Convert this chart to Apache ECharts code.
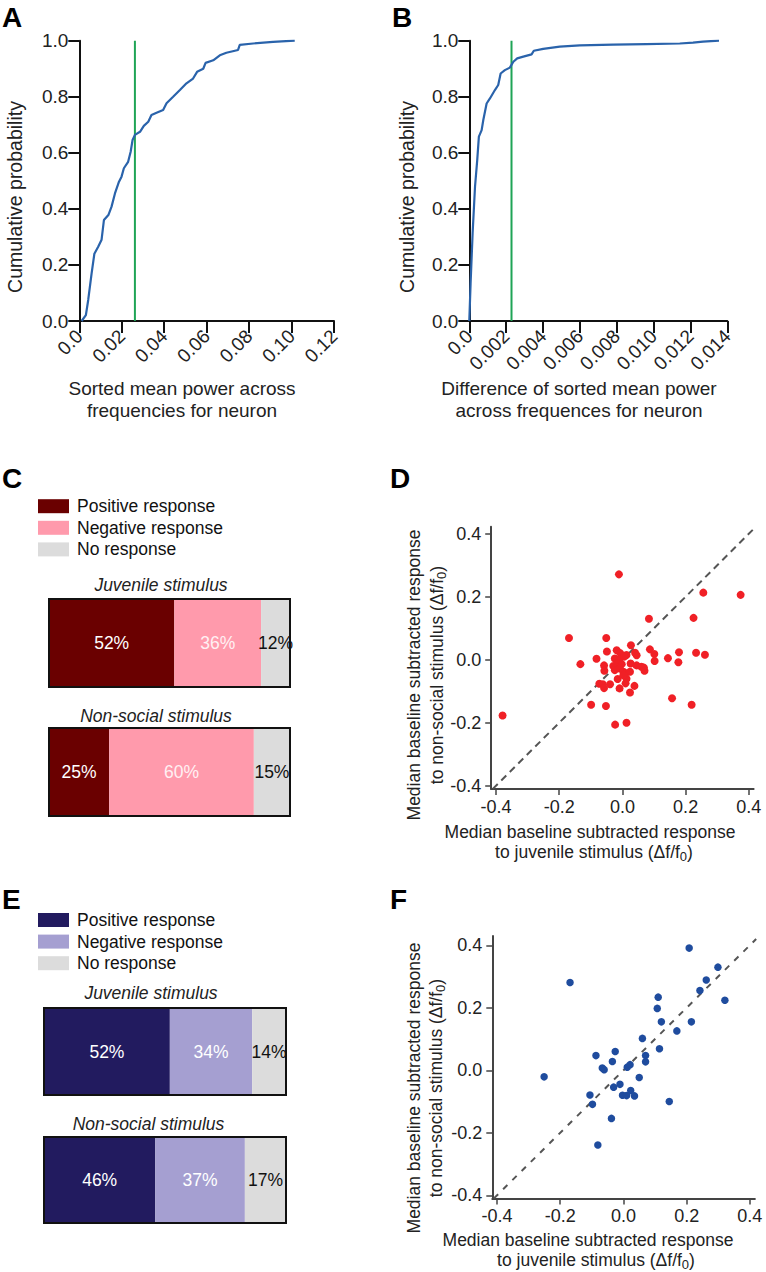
<!DOCTYPE html>
<html><head><meta charset="utf-8">
<script src="https://cdn.jsdelivr.net/npm/echarts@6/dist/echarts.min.js"></script>
<style>html,body{margin:0;padding:0;background:#fff}#c{width:766px;height:1272px}</style>
</head><body><div id="c"></div>
<script>
// ---------------- DATA ----------------
// Panel A: cumulative distribution of sorted mean power
const cdfA_x = [0.0011,0.0031,0.0042,0.0058,0.0071,0.0089,0.0105,0.0116,0.0137,0.0152,0.0168,0.0187,0.0199,0.021,0.023,0.0242,0.0251,0.0262,0.0286,0.0304,0.0325,0.034,0.0364,0.0395,0.0411,0.0442,0.0474,0.0505,0.0536,0.0555,0.0584,0.0595,0.0631,0.0662,0.0693,0.0748,0.0756,0.0819,0.0913,0.1015];
const cdfA_y = [0,0.021,0.075,0.17,0.24,0.265,0.29,0.36,0.378,0.408,0.455,0.497,0.515,0.545,0.568,0.604,0.646,0.664,0.675,0.696,0.711,0.735,0.743,0.753,0.777,0.80,0.824,0.848,0.865,0.889,0.90,0.921,0.93,0.948,0.957,0.967,0.985,0.99,0.996,1.0];
const thresholdA = 0.0262;
const ticksA = ['0.0','0.02','0.04','0.06','0.08','0.10','0.12'];
// Panel B: cumulative distribution of differences
const cdfB_x = [0,0.00007,0.00018,0.00031,0.00043,0.00052,0.00067,0.00076,0.00094,0.00112,0.00139,0.00157,0.0017,0.00193,0.0022,0.00239,0.0026,0.00293,0.00338,0.0035,0.00401,0.00491,0.006,0.0078,0.00961,0.01142,0.01214,0.01268,0.01355];
const cdfB_y = [0,0.134,0.313,0.479,0.574,0.658,0.681,0.717,0.776,0.794,0.824,0.842,0.883,0.895,0.904,0.925,0.937,0.943,0.951,0.964,0.971,0.979,0.983,0.986,0.988,0.99,0.993,0.997,1.0];
const thresholdB = 0.00229;
const ticksB = ['0.0','0.002','0.004','0.006','0.008','0.010','0.012','0.014'];
const probTicks = ['0.0','0.2','0.4','0.6','0.8','1.0'];
// Panels C / E: response percentages
const responseTypes = ['Positive response','Negative response','No response'];
const stimuli = ['Juvenile stimulus','Non-social stimulus'];
const pctC_juvenile = [52,36,12];
const pctC_nonsocial = [25,60,15];
const pctE_juvenile = [52,34,14];
const pctE_nonsocial = [46,37,17];
// Panel D scatter
const scatterD_x = [-0.011,0.256,0.374,0.084,0.225,-0.169,-0.051,0.027,-0.049,-0.018,-0.007,0.013,0.087,0.101,0.045,0.04,-0.082,-0.024,-0.011,0.006,0.102,0.144,0.179,0.233,0.261,0.177,-0.133,-0.058,-0.029,-0.016,-0.002,0.026,0.045,0.06,0.068,0.07,-0.057,-0.024,-0.008,0.003,0.01,0.024,0.013,-0.015,0.003,-0.073,-0.062,-0.039,-0.058,0.01,0.038,-0.009,0.024,0.157,-0.099,-0.052,0.219,-0.023,0.013,-0.379];
const scatterD_y = [0.271,0.213,0.206,0.13,0.133,0.069,0.069,0.046,0.026,0.03,0.021,0.015,0.033,0.018,0.014,0.022,0.003,0.004,0.001,0.01,-0.004,0.005,0.024,0.022,0.016,-0.008,-0.014,-0.018,-0.02,-0.012,-0.014,-0.012,-0.018,-0.022,-0.025,-0.035,-0.035,-0.033,-0.028,-0.038,-0.043,-0.038,-0.06,-0.061,-0.049,-0.076,-0.078,-0.078,-0.09,-0.075,-0.083,-0.091,-0.104,-0.122,-0.143,-0.147,-0.143,-0.206,-0.2,-0.177];
// Panel F scatter
const scatterF_x = [0.208,-0.169,0.299,0.262,0.242,0.321,0.11,0.107,0.12,0.215,0.169,0.06,0.114,-0.087,-0.026,-0.035,0.07,0.07,-0.067,-0.061,0.012,0.021,-0.251,0.05,-0.011,-0.031,-0.106,-0.098,-0.003,0.01,0.023,0.035,0.145,-0.038,-0.081];
const scatterF_y = [0.391,0.281,0.33,0.289,0.255,0.224,0.234,0.198,0.155,0.155,0.126,0.102,0.069,0.047,0.06,0.028,0.047,0.027,0.007,0.002,0.01,0.018,-0.021,-0.023,-0.045,-0.054,-0.079,-0.109,-0.08,-0.081,-0.065,-0.082,-0.1,-0.154,-0.239];
const scatterTicks = [-0.4,-0.2,0,0.2,0.4];
const identityLine = [-0.41, 0.42];

// ---------------- STYLE ----------------
const FONT = '"Liberation Sans", Arial, Helvetica, sans-serif';
const colC = ['#6a0000','#ff9aac','#dcdcdc'];
const colE = ['#221b5f','#a59fd1','#dcdcdc'];
const labelColC = ['#ffffff','#fff0f3','#111111'];
const labelColE = ['#ffffff','#ffffff','#111111'];
const zip = (xs, ys) => xs.map((x, i) => [x, ys[i]]);

const grids = [
  {left:79.3, top:40.7, width:254.7, height:280.3},   // A
  {left:469.3, top:40.7, width:258, height:280.3},    // B
  {left:49, top:599, width:241, height:88},           // C juvenile
  {left:49, top:728, width:241, height:88},           // C non-social
  {left:491.2, top:526.8, width:262.4, height:262.1}, // D
  {left:44, top:1008, width:242, height:87},          // E juvenile
  {left:44, top:1137, width:242, height:86},          // E non-social
  {left:492.3, top:935.9, width:262.6, height:262.5}  // F
];
const barGridIdx = [2,3,5,6];
grids.forEach((g, i) => {
  if (barGridIdx.includes(i)) Object.assign(g, {show:true, z:10, backgroundColor:'transparent', borderColor:'#111', borderWidth:2});
});

const blackLine = {show:true, onZero:false, lineStyle:{color:'#111', width:2}};
const grayLine = {show:true, onZero:false, lineStyle:{color:'#444', width:2}};
const xAxes = [], yAxes = [];
// A
xAxes.push({gridIndex:0, type:'value', min:0, max:0.12, interval:0.02, axisLine:blackLine,
  axisTick:{show:true, length:12, lineStyle:{color:'#111', width:2}}, splitLine:{show:false},
  axisLabel:{rotate:45, fontSize:19, color:'#222', margin:12, formatter:v => ticksA[Math.round(v/0.02)]}});
yAxes.push({gridIndex:0, type:'value', min:0, max:1, interval:0.2, axisLine:blackLine,
  axisTick:{show:true, length:11, lineStyle:{color:'#111', width:2}}, splitLine:{show:false},
  axisLabel:{fontSize:19, color:'#222', margin:11, formatter:v => probTicks[Math.round(v/0.2)]}});
// B
xAxes.push({gridIndex:1, type:'value', min:0, max:0.014, interval:0.002, axisLine:blackLine,
  axisTick:{show:true, length:12, lineStyle:{color:'#111', width:2}}, splitLine:{show:false},
  axisLabel:{rotate:45, fontSize:19, color:'#222', margin:12, formatter:v => ticksB[Math.round(v/0.002)]}});
yAxes.push({gridIndex:1, type:'value', min:0, max:1, interval:0.2, axisLine:blackLine,
  axisTick:{show:true, length:11, lineStyle:{color:'#111', width:2}}, splitLine:{show:false},
  axisLabel:{fontSize:19, color:'#222', margin:11, formatter:v => probTicks[Math.round(v/0.2)]}});
// bar grids helper
function barAxes(gi, cat) {
  xAxes.push({gridIndex:gi, type:'value', min:0, max:100, show:false});
  yAxes.push({gridIndex:gi, type:'category', data:[cat], show:false});
}
barAxes(2, stimuli[0]); barAxes(3, stimuli[1]);
// D
const scatterAxisCommon = {type:'value', axisLine:grayLine, splitLine:{show:false},
  axisTick:{show:true, length:6, customValues:scatterTicks, lineStyle:{color:'#444', width:1.5}},
  axisLabel:{fontSize:18, color:'#222', customValues:scatterTicks, formatter:v => v.toFixed(1)}};
xAxes.push(Object.assign({}, scatterAxisCommon, {gridIndex:4, min:-0.415, max:0.415,
  axisLabel:Object.assign({}, scatterAxisCommon.axisLabel, {margin:9})}));
yAxes.push(Object.assign({}, scatterAxisCommon, {gridIndex:4, min:-0.41, max:0.422,
  axisLabel:Object.assign({}, scatterAxisCommon.axisLabel, {margin:10})}));
barAxes(5, stimuli[0]); barAxes(6, stimuli[1]);
// F
xAxes.push(Object.assign({}, scatterAxisCommon, {gridIndex:7, min:-0.415, max:0.416,
  axisLabel:Object.assign({}, scatterAxisCommon.axisLabel, {margin:9})}));
yAxes.push(Object.assign({}, scatterAxisCommon, {gridIndex:7, min:-0.41, max:0.43,
  axisLabel:Object.assign({}, scatterAxisCommon.axisLabel, {margin:10})}));

const series = [];
// CDF lines
series.push({type:'line', xAxisIndex:0, yAxisIndex:0, data:zip(cdfA_x, cdfA_y), showSymbol:false, symbol:'none',
  lineStyle:{color:'#2a63ab', width:2.2}, z:3});
series.push({type:'line', xAxisIndex:0, yAxisIndex:0, data:[[thresholdA,0],[thresholdA,1]], symbol:'none',
  lineStyle:{color:'#1fa456', width:2}, z:2});
series.push({type:'line', xAxisIndex:1, yAxisIndex:1, data:zip(cdfB_x, cdfB_y), showSymbol:false, symbol:'none',
  lineStyle:{color:'#2a63ab', width:2.2}, z:3});
series.push({type:'line', xAxisIndex:1, yAxisIndex:1, data:[[thresholdB,0],[thresholdB,1]], symbol:'none',
  lineStyle:{color:'#1fa456', width:2}, z:2});
// stacked bars
function addBars(panel, gi, values, colors, labelColors) {
  values.forEach((v, i) => {
    series.push({type:'bar', name:panel + '|' + responseTypes[i], xAxisIndex:gi, yAxisIndex:gi,
      stack:panel + gi, barWidth:'100%', data:[v], itemStyle:{color:colors[i]},
      label:{show:true, position:'inside', formatter:'{c}%', fontSize:17.5, color:labelColors[i], fontFamily:FONT}});
  });
}
addBars('C', 2, pctC_juvenile, colC, labelColC);
addBars('C', 3, pctC_nonsocial, colC, labelColC);
addBars('E', 5, pctE_juvenile, colE, labelColE);
addBars('E', 6, pctE_nonsocial, colE, labelColE);
// scatter D
series.push({type:'line', xAxisIndex:4, yAxisIndex:4, symbol:'none',
  data:[[identityLine[0],identityLine[0]],[identityLine[1],identityLine[1]]],
  lineStyle:{color:'#555', width:2, type:[7,5]}, z:1});
series.push({type:'scatter', xAxisIndex:4, yAxisIndex:4, data:zip(scatterD_x, scatterD_y), symbolSize:8,
  itemStyle:{color:'#f02026', opacity:1}, z:3});
// scatter F
series.push({type:'line', xAxisIndex:7, yAxisIndex:7, symbol:'none',
  data:[[identityLine[0],identityLine[0]],[identityLine[1],identityLine[1]]],
  lineStyle:{color:'#555', width:2, type:[6,7]}, z:1});
series.push({type:'scatter', xAxisIndex:7, yAxisIndex:7, data:zip(scatterF_x, scatterF_y), symbolSize:7.5,
  itemStyle:{color:'#1f4c9e', opacity:1}, z:3});

const legendCommon = {orient:'vertical', left:38, itemWidth:31, itemHeight:14, itemGap:3.6, icon:'rect',
  padding:0, selectedMode:false, formatter:n => n.split('|')[1],
  textStyle:{fontSize:17.5, color:'#111', fontFamily:FONT, padding:[0,0,0,3]}};
const legends = [
  Object.assign({}, legendCommon, {top:497.2, data:responseTypes.map(t => 'C|' + t)}),
  Object.assign({}, legendCommon, {top:911, data:responseTypes.map(t => 'E|' + t)})
];

// text helpers
function txt(x, y, text, opts) {
  opts = opts || {};
  return {type:'text', x:x, y:y, rotation:opts.rot || 0, silent:true,
    style:{text:text, fontSize:opts.size || 17.5, fontFamily:FONT, fontWeight:opts.weight || 'normal',
      fontStyle:opts.italic ? 'italic' : 'normal', fill:opts.color || '#222',
      align:opts.align || 'center', verticalAlign:'middle', textAlign:opts.align || 'center', textVerticalAlign:'middle',
      rich:{sub:{fontSize:13, fontFamily:FONT, fill:opts.color || '#222', padding:[8,0,0,0]}}}};
}
const letterOpt = {size:28, weight:'bold', color:'#000', align:'left'};
const R = Math.PI / 2;
const dfLabel = '(\u0394f/f{sub|0})';
const graphic = [
  txt(2, 17, 'A', letterOpt), txt(392, 17, 'B', letterOpt),
  txt(2, 478, 'C', letterOpt), txt(390, 478, 'D', letterOpt),
  txt(2, 899, 'E', letterOpt), txt(390, 899, 'F', letterOpt),
  txt(15, 197, 'Cumulative probability', {size:19.5, rot:R}),
  txt(406.5, 197, 'Cumulative probability', {size:19.5, rot:R}),
  txt(182, 388, 'Sorted mean power across', {size:19}),
  txt(182, 410, 'frequencies for neuron', {size:19}),
  txt(579, 388, 'Difference of sorted mean power', {size:19}),
  txt(579, 410, 'across frequences for neuron', {size:19}),
  txt(161, 585, stimuli[0], {italic:true}), txt(156, 716, stimuli[1], {italic:true}),
  txt(151, 993, stimuli[0], {italic:true}), txt(148.5, 1124, stimuli[1], {italic:true}),
  txt(590, 832, 'Median baseline subtracted response'),
  txt(594, 852, 'to juvenile stimulus ' + dfLabel),
  txt(414, 675, 'Median baseline subtracted response', {rot:R}),
  txt(437, 675, 'to non-social stimulus ' + dfLabel, {rot:R}),
  txt(588, 1240, 'Median baseline subtracted response'),
  txt(596, 1260, 'to juvenile stimulus ' + dfLabel),
  txt(414, 1088, 'Median baseline subtracted response', {rot:R}),
  txt(436, 1088, 'to non-social stimulus ' + dfLabel, {rot:R})
];

const chart = echarts.init(document.getElementById('c'), null, {renderer:'svg', width:766, height:1272});
chart.setOption({
  animation:false,
  backgroundColor:'#ffffff',
  textStyle:{fontFamily:FONT},
  grid:grids, xAxis:xAxes, yAxis:yAxes, series:series, legend:legends, graphic:graphic
});
</script></body></html>
